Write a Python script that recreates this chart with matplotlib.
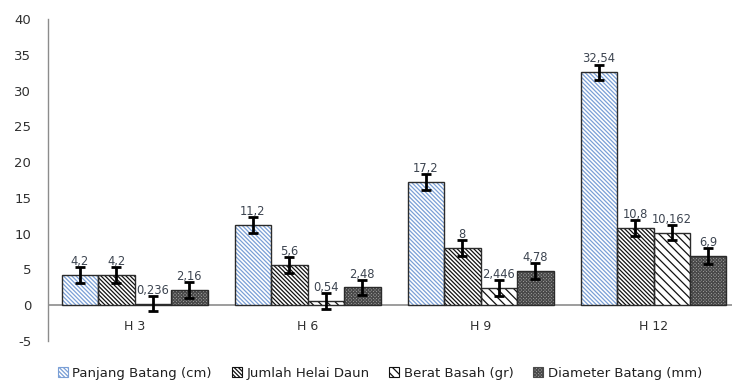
import matplotlib
matplotlib.use("Agg")
import matplotlib.pyplot as plt
import numpy as np
from matplotlib.patches import Patch

categories = ["H 3", "H 6", "H 9", "H 12"]
series_names = ["Panjang Batang (cm)", "Jumlah Helai Daun", "Berat Basah (gr)", "Diameter Batang (mm)"]
panjang = [4.2, 11.2, 17.2, 32.54]
jumlah = [4.2, 5.6, 8, 10.8]
berat = [0.236, 0.54, 2.446, 10.162]
diameter = [2.16, 2.48, 4.78, 6.9]
labels = [["4,2", "11,2", "17,2", "32,54"],
          ["4,2", "5,6", "8", "10,8"],
          ["0,236", "0,54", "2,446", "10,162"],
          ["2,16", "2,48", "4,78", "6,9"]]
errors = [1.1, 1.1, 1.1, 1.1]
yticks = [-5, 0, 5, 10, 15, 20, 25, 30, 35, 40]

plt.rcParams['font.family'] = ['DejaVu Sans']
plt.rcParams['hatch.linewidth'] = 0.9

fig = plt.figure(figsize=(7.32, 3.80), dpi=100)
left = 48 / 732
width = 4 * 173 / 732
bottom = (380 - 341) / 380
top = (380 - 19) / 380
ax = fig.add_axes([left, bottom, width, top - bottom])

data = [panjang, jumlah, berat, diameter]
styles = [
    dict(face="white", hatch="\\" * 8, hcol="#7a9fd6"),
    dict(face="white", hatch="\\" * 8, hcol="#111111"),
    dict(face="white", hatch="\\" * 4, hcol="#111111"),
    dict(face="#a8a8a8", hatch="x" * 10, hcol="#4a4a4a"),
]
x = np.arange(len(categories))
gap = 27 / 173
bw = (1 - gap) / 4
handles = []
for i, (vals, st) in enumerate(zip(data, styles)):
    pos = x + gap / 2 + bw * i + bw / 2
    ax.bar(pos, vals, width=bw, color=st["face"], hatch=st["hatch"],
           edgecolor=st["hcol"], linewidth=0, zorder=2)
    ax.bar(pos, vals, width=bw, fill=False, edgecolor="#2b2b2b",
           linewidth=1.0, zorder=3)
    ax.errorbar(pos, vals, yerr=errors, fmt="none", ecolor="black",
                elinewidth=2, capsize=3.5, capthick=2, zorder=4)
    for p, v, lab in zip(pos, vals, labels[i]):
        ax.annotate(lab, (p, v), xytext=(0, 5), textcoords="offset points",
                    ha="center", va="bottom", fontsize=8.3, color="#3c4450", zorder=5)
    handles.append(Patch(facecolor=st["face"], hatch=st["hatch"],
                         edgecolor=st["hcol"], linewidth=0.8))

ax.set_xlim(0, 4)
ax.set_ylim(-5, 40)
ax.set_yticks(yticks)
ax.set_yticklabels([str(t) for t in yticks], fontsize=9.5, color="#303030")
ax.tick_params(axis="y", length=0, pad=12)
ax.set_xticks([])
ax.axhline(0, color="#8c8c8c", linewidth=1.2, zorder=1)
for s in ["top", "right", "bottom"]:
    ax.spines[s].set_visible(False)
ax.spines["left"].set_color("#8c8c8c")
ax.spines["left"].set_linewidth(1.0)

for xi, c in zip(x, categories):
    ax.text(xi + 0.5, -3, c, ha="center", va="center", fontsize=9, color="#303030")

fig.legend(handles, series_names, loc="center", bbox_to_anchor=(380 / 732, 1 - 373 / 380),
           ncol=4, frameon=False, fontsize=9.5, handlelength=0.76, handleheight=0.76,
           handletextpad=0.35, columnspacing=1.5, labelcolor="#202020",
           borderpad=0, borderaxespad=0)

fig.savefig("out.png", dpi=100)
